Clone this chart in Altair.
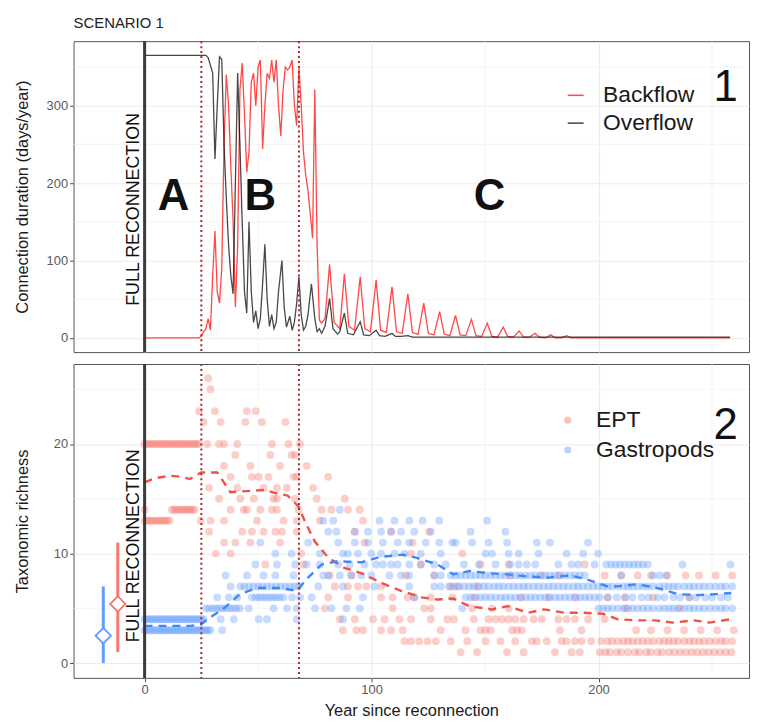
import altair as alt
import pandas as pd

FONT = "Liberation Sans"

# ---------------- panel 1: connection duration ----------------
backflow_year = [0, 24, 25, 26, 27, 28, 29, 30, 31, 32, 33, 34, 35, 36, 37, 38, 39, 40, 41, 42, 43, 44,
                 45, 46, 47, 48, 49, 50, 51, 52, 53, 54, 55, 56, 57, 58, 59, 60, 61, 62, 63, 64,
                 65, 66, 67, 68, 69, 70, 71, 72, 73, 74, 75, 76, 77, 78,
                 79.5, 81.5, 83.5, 86, 88, 90, 92.5, 95, 97, 99.5, 102, 104, 106.5, 109, 111, 113.5,
                 116, 118, 120.5, 123, 125, 127.5, 130, 132, 134.5, 137, 139, 141.5, 144, 146, 148.5,
                 151, 153, 155.5, 158, 160, 162.5, 165, 167, 169.5, 172, 174, 176.5, 179, 181, 183.5,
                 186, 188, 258]
backflow_days = [0, 0, 2, 8, 12, 25, 10, 80, 138, 60, 45, 90, 250, 340, 300, 220, 150, 40, 120, 320, 355, 290,
                 214, 240, 330, 342, 300, 350, 359, 244, 300, 342, 335, 359, 330, 359, 300, 261, 320, 350, 346, 350,
                 359, 300, 274, 350, 300, 240, 210, 190, 160, 129, 321, 120, 23, 19,
                 25, 95, 20, 12, 83, 15, 10, 79, 12, 8, 75, 10, 7, 66, 8, 6,
                 57, 7, 5, 45, 6, 4, 34, 5, 3, 29, 4, 3, 24, 3, 2,
                 19, 2, 1, 14, 2, 1, 9, 1, 1, 6, 1, 0, 4, 0, 0,
                 3, 0, 0]

overflow_year = [0, 27, 28, 29, 30, 31, 32, 33, 34, 35, 36, 37, 38, 39, 40, 41, 42, 43, 44, 45, 46, 47,
                 48, 49, 50, 51, 52, 53, 54, 55, 56, 57, 58, 59, 60.5, 61.5, 62.5, 64, 65, 66, 67, 68,
                 69, 70, 71, 72, 73.5, 75, 76, 77, 78, 79.5, 81.5, 83, 85, 86, 88, 89.5, 92, 95, 96.5,
                 99, 102, 103.5, 106, 109, 110.5, 113, 116, 118, 258]
overflow_days = [365, 365, 362, 352, 342, 231, 300, 363, 360, 250, 180, 120, 80, 57, 200, 342, 250, 150, 60, 32, 150, 60,
                 20, 35, 12, 25, 70, 121, 50, 15, 30, 12, 20, 60, 100, 40, 14, 28, 10, 20, 45, 79,
                 30, 10, 15, 30, 70, 25, 8, 12, 6, 15, 51, 12, 5, 8, 32, 6, 4, 21, 4,
                 3, 10, 3, 2, 6, 2, 2, 3, 1, 1]

flow_names = ["Backflow", "Overflow"]
flow_colors = ["#FF0000", "#000000"]

phase_breaks = [25, 68]
reconnection_year = [0]
phase_labels = ["A", "B", "C"]
phase_label_year = [12.7, 51, 152]
phase_label_days = [182, 182, 182]

# ---------------- panel 2: taxonomic richness ----------------
ept_rows = {
    26: [28],
    25: [29],
    23: [24, 31, 45, 49],
    22: [26, 33.5, 44.4, 51.7, 62],
    20: [0, 1, 2, 3, 4, 5, 6, 7, 8, 9, 10, 11, 12, 13, 14, 15, 16, 17, 18, 19, 20, 21, 22, 23, 24,
         27.6, 32.8, 35, 40.8, 56.1, 63.4, 68.5],
    19: [40, 55.4, 64.8, 66.3],
    18: [35, 46.6, 59.7, 71.4],
    17: [37.9, 47.3, 50.3, 54.6, 65.6, 67, 80.9],
    16: [28.4, 40.8, 52.4, 58.3, 62.7, 74.3],
    15: [32.8, 42.2, 48.1, 56.8, 58.3, 66.3, 75.8, 88.2],
    14: [0, 12, 13, 14, 15, 16, 17, 18, 19, 20, 21, 22,
         37.9, 43.7, 45.1, 51, 56.1, 58.3, 67.8, 78, 82.3, 89.6, 94.8],
    13: [0, 1, 2, 3, 4, 5, 6, 7, 8, 9, 10, 11,
         24.7, 29.1, 35, 49.5, 61.2, 67, 77.2, 96.2],
    12: [28.4, 43, 47.3, 52.4, 57.6, 60.5, 67, 92.6, 108.6, 125.4],
    11: [35, 40, 46.6, 59.7, 96.9, 118.1],
    10: [31.3, 37.9, 69, 117.4, 140],
    9: [53.2, 70, 121.7, 148, 160.4, 193.9],
    8: [81.6, 91.1, 115.2, 127.6, 161.1, 175, 182.3, 202.7, 210, 217.3, 223.1, 230.4, 238.4,
        244.3, 251.6, 258.9],
    7: [83.8, 89.6, 94, 97.7, 104.2, 134.9, 137.8, 146.5],
    6: [80.9, 89.6, 104.2, 109.3, 115.9, 118.8, 126.1, 135.6, 145, 166, 178, 190, 204.1, 211.4,
        224, 240],
    5: [79.4, 109.3, 123.2, 126.1, 144.3, 153.1, 160.4, 212, 236],
    4: [86, 92.6, 100.6, 105.7, 112.3, 117.4, 126.1, 133.4, 136.3, 145.1, 151.6, 154.6, 157.5,
        160.4, 163.3, 167, 171.4, 175, 182.3, 185.9, 189.6, 195.4, 202.7],
    3: [87.4, 93.3, 96.2, 104.2, 108.6, 113.7, 130.5, 141.4, 148, 150.2, 152.4, 161.9, 164.1,
        166.2, 183, 192.5, 216.6, 223.1, 230.4, 237.7, 245, 252.3, 259.6],
    2: [114.5, 117.4, 121, 124.7, 128.3, 134.9, 142.2, 150.2, 156.8, 163.3, 170.6, 172.8, 177.2,
        183.7, 185.9, 189.6, 192.5, 196.8, 201.2, 204, 206, 208.5, 211, 213, 215, 217.3, 219.5,
        221.7, 224, 226.8, 229, 231, 233, 235, 237.7, 240, 242, 244.3, 246.5, 249, 251.6, 254,
        256, 258.9],
    1: [139.2, 146.5, 159.7, 167, 180.8, 188.1, 191.7, 200.5, 203, 205, 208, 210, 213, 216, 218,
        221, 223, 226, 228, 231, 233.5, 236, 238.5, 241, 243.5, 246, 248.5, 251, 253.5, 256, 258.5],
}

gastropod_rows = {
    14: [86],
    13: [78.7, 83.1, 103.5, 110.1, 116.6, 122.5, 129.8, 150.9],
    12: [80.9, 84.5, 92.6, 98.4, 104.2, 108.6, 113, 118.8, 126.1, 143.6, 159],
    11: [51, 72.1, 85.3, 92.6, 98.4, 105, 111.5, 116.6, 123.9, 129.8, 135.6, 137, 144.3, 151.6,
         159.7, 172.8, 178.6, 195.4],
    10: [57.6, 64.8, 77.2, 87.4, 89.6, 94, 99.9, 104.2, 110.1, 114.5, 121.7, 130.5, 150.2, 153.1,
         160.4, 164.8, 173.6, 185.9, 193.2, 199.8],
    9: [48.8, 58.3, 66.3, 71.4, 77.2, 85.3, 90.4, 96.9, 102, 105, 108.6, 111.5, 116.6, 121.7,
        127.6, 132.7, 140.7, 147.3, 154.6, 161.1, 164.8, 168.4, 172.1, 182.3, 188.1, 191, 198.3,
        203.4, 205.5, 207.5, 209.5, 211.5, 213.5, 215.5, 217.5, 219.5, 221.7, 237, 258.1],
    8: [35.7, 45.1, 52.4, 57.6, 65.6, 78.7, 80.9, 86, 91.1, 95.5, 99.9, 107.9, 113, 116.6, 127.6,
        130.5, 134.9, 137, 139.2, 141.4, 143.6, 145.8, 148, 150.2, 152.4, 154.6, 156.8, 159,
        161.1, 163.3, 165.5, 167.7, 170, 172.1, 174.3, 176.5, 178.6, 180.8, 183, 185.2, 187.4,
        189.6, 191.7, 193.9, 210, 223.9, 226.8, 229.7],
    7: [37.9, 42.2, 44, 46, 48, 50, 52, 54, 56, 58, 60, 62, 64, 66, 67.8, 76.5, 87.4, 101.3,
        116.6, 127.6, 130.5, 134.1, 136.3, 138.5, 140.7, 143, 145, 147.3, 149.5, 151.6, 154, 156,
        158, 160.4, 162.5, 164.8, 167, 169, 171.4, 173.6, 175.8, 178, 180, 182.3, 184.5, 186.6,
        189, 191, 193.2, 195.4, 197.6, 199.8, 202, 204, 206, 208.5, 211, 213, 215, 217.3, 219.5,
        221.7, 224, 226.8, 229, 231, 233, 235, 237.7, 240, 242, 244.3, 246.5, 249, 251.6, 254,
        256, 258.9],
    6: [32, 37.1, 40.8, 47.3, 49, 50.5, 52, 53.5, 55, 56.5, 58, 59.5, 61.2, 65, 68.5, 73.6, 96.2,
        118.8, 141.4, 143.6, 146, 148, 150.2, 152.4, 154.6, 157, 159, 161.1, 163.3, 165.5, 168,
        170, 172.1, 174.3, 176.5, 178.6, 181, 183, 185.2, 187.4, 189.6, 192, 194, 196, 198.3,
        200.5, 204, 208, 212, 215, 219, 222, 226, 229, 233, 236, 240, 243, 247, 250, 254, 257],
    5: [27, 28.5, 30, 31.5, 33, 34.5, 36, 37.5, 39, 40.5, 42, 45.9, 56.8, 62.7, 67, 75.1, 82.3,
        88.9, 94.8, 140, 200, 202, 204, 206, 208.5, 211, 213, 215, 217.3, 219.5, 221.7, 224,
        226.8, 229, 231, 233, 235, 237.7, 240, 242, 244.3, 246.5, 249, 251.6, 254, 256, 258.9],
    4: [0, 1, 2, 3, 4, 5, 6, 7, 8, 9, 10, 11, 12, 13, 14, 15, 16, 17, 18, 19, 20, 21, 22, 23, 24,
        25, 26, 33.5, 39.3, 50.3, 53.9, 67, 87.4],
    3: [0, 1, 2, 3, 4, 5, 6, 7, 8, 9, 10, 11, 12, 13, 14, 15, 16, 17, 18, 19, 20, 21, 22, 23, 24,
        25, 26, 27, 28, 29, 34.2],
}

ept_trend_year = [0, 5, 11.6, 16, 20, 25, 32, 37.8, 45, 53, 58, 63, 67.8, 70.7, 75, 81, 88, 95.5,
                  105.7, 113, 122, 129, 136, 143, 153, 160, 169, 176, 185, 192.6, 202, 208.5, 217,
                  224.6, 233, 242, 249, 258]
ept_trend_val = [16.5, 16.9, 17.1, 17.0, 16.8, 17.4, 17.4, 15.6, 15.7, 15.8, 15.5, 15.3, 14.3, 12.9,
                 11.1, 9.6, 8.7, 8.2, 7.2, 6.6, 6.0, 5.8, 5.9, 5.2, 4.9, 5.2, 4.6, 4.9, 4.6, 4.6, 4.5,
                 4.0, 3.9, 3.9, 3.7, 3.9, 3.7, 4.0]
gas_trend_year = [0, 10, 20, 24.7, 27.6, 35, 42, 49.5, 59.7, 67, 72, 78, 85, 95.5, 104, 114, 120,
                  129, 136, 143, 152, 160, 169, 178, 187, 194, 204, 208.5, 217, 226, 235, 243.5,
                  252, 258.5]
gas_trend_val = [3.4, 3.4, 3.4, 3.5, 4.0, 5.0, 6.3, 6.85, 6.85, 6.6, 7.8, 9.0, 9.3, 9.2, 9.7, 9.9,
                 9.6, 9.0, 8.1, 8.4, 8.2, 8.1, 7.9, 7.8, 8.0, 7.7, 7.0, 7.0, 7.2, 6.85, 6.3, 6.2,
                 6.3, 6.4]

group_names = ["EPT", "Gastropods"]
group_colors = ["#F8766D", "#619CFF"]
trend_colors = ["#F0524A", "#3F88F5"]

# full-reconnection summary (range and mean)
err_group = ["EPT", "Gastropods"]
err_year = [-11.8, -18.2]
err_lo = [1, 0]
err_hi = [11, 7]
err_mid = [5.4, 2.5]

# ---------------- build tables ----------------
df_flow = pd.concat([
    pd.DataFrame({"year": backflow_year, "days": backflow_days, "flow": "Backflow"}),
    pd.DataFrame({"year": overflow_year, "days": overflow_days, "flow": "Overflow"}),
])

pts = []
for grp, rows in (("EPT", ept_rows), ("Gastropods", gastropod_rows)):
    for val, years in rows.items():
        for yr in years:
            pts.append({"year": yr, "richness": val, "group": grp})
df_pts = pd.DataFrame(pts)

df_ept_trend = pd.DataFrame({"year": ept_trend_year, "richness": ept_trend_val})
df_gas_trend = pd.DataFrame({"year": gas_trend_year, "richness": gas_trend_val})
df_err = pd.DataFrame({"group": err_group, "year": err_year, "lo": err_lo, "hi": err_hi, "mid": err_mid})
df_breaks = pd.DataFrame({"year": phase_breaks})
df_recon = pd.DataFrame({"year": reconnection_year})
df_abc = pd.DataFrame({"label": phase_labels, "year": phase_label_year, "days": phase_label_days})

W = 680
H1 = 313
H2 = 316
XDOM = [-31.3, 266.3]
xs = alt.Scale(domain=XDOM, nice=False, zero=False)
ys1 = alt.Scale(domain=[-18.25, 383.25], nice=False, zero=False)
ys2 = alt.Scale(domain=[-1.35, 27.3], nice=False, zero=False)

x_top_axis = alt.Axis(values=[0, 100, 200], labels=False, ticks=False, title=None, domain=False)
x_bot_axis = alt.Axis(values=[0, 100, 200], title="Year since reconnection", format="d",
                      labelPadding=2, titlePadding=6)
y_top_axis = alt.Axis(values=[0, 100, 200, 300], title="Connection duration (days/year)",
                      titlePadding=16)
y_bot_axis = alt.Axis(values=[0, 10, 20], title="Taxonomic richness", titlePadding=23)

minor_x = pd.DataFrame({"year": [50, 150, 250]})
minor_y1 = pd.DataFrame({"v": [50, 150, 250, 350]})
minor_y2 = pd.DataFrame({"v": [5, 15, 25]})


def minor_grid(xax, ysc, yax, ydf):
    gx = alt.Chart(minor_x).mark_rule(color="#F3F3F3", strokeWidth=0.8).encode(
        x=alt.X("year:Q", scale=xs, axis=xax))
    gy = alt.Chart(ydf).mark_rule(color="#F3F3F3", strokeWidth=0.8).encode(
        y=alt.Y("v:Q", scale=ysc, axis=yax))
    return [gx, gy]


# ---- top panel ----
flow_lines = alt.Chart(df_flow).mark_line(strokeWidth=1.3, opacity=0.72).encode(
    x=alt.X("year:Q", scale=xs, axis=x_top_axis),
    y=alt.Y("days:Q", scale=ys1, axis=y_top_axis),
    color=alt.Color("flow:N", scale=alt.Scale(domain=flow_names, range=flow_colors),
                    legend=alt.Legend(title=None, orient="none", legendX=494, legendY=43,
                                      labelFontSize=23, labelFont=FONT, labelColor="#1a1a1a",
                                      symbolType="stroke", symbolSize=256, symbolStrokeWidth=1.6,
                                      symbolOpacity=0.7, labelOffset=16, rowPadding=4, padding=0)),
    detail="flow:N",
)


def break_rules(xax):
    return alt.Chart(df_breaks).mark_rule(color="#A52A2A", strokeDash=[2, 3], strokeWidth=2).encode(
        x=alt.X("year:Q", scale=xs, axis=xax))


def recon_rule(xax):
    return alt.Chart(df_recon).mark_rule(color="#3a3a3a", strokeWidth=3).encode(
        x=alt.X("year:Q", scale=xs, axis=xax))


recon_text_top = alt.Chart(pd.DataFrame({"t": ["FULL RECONNECTION"], "year": [-4.8], "v": [166]})).mark_text(
    angle=270, fontSize=18, font=FONT, color="#111", align="center", baseline="middle").encode(
    x=alt.X("year:Q", scale=xs, axis=x_top_axis), y=alt.Y("v:Q", scale=ys1, axis=y_top_axis), text="t:N")

abc_text = alt.Chart(df_abc).mark_text(fontSize=44, fontWeight="bold", font=FONT, color="#111",
                                       align="center", baseline="middle").encode(
    x=alt.X("year:Q", scale=xs, axis=x_top_axis), y=alt.Y("days:Q", scale=ys1, axis=y_top_axis),
    text="label:N")

num1 = alt.Chart(pd.DataFrame({"t": ["1"], "year": [256], "v": [323]})).mark_text(
    fontSize=44, font=FONT, color="#111", align="center", baseline="middle").encode(
    x=alt.X("year:Q", scale=xs, axis=x_top_axis), y=alt.Y("v:Q", scale=ys1, axis=y_top_axis), text="t:N")

top = alt.layer(
    *minor_grid(x_top_axis, ys1, y_top_axis, minor_y1), flow_lines, break_rules(x_top_axis),
    recon_rule(x_top_axis), recon_text_top, abc_text, num1
).properties(width=W, height=H1,
             title=alt.TitleParams("SCENARIO 1", anchor="start", frame="group", fontSize=15,
                                   font=FONT, fontWeight="normal", color="#222", offset=9))

# ---- bottom panel ----
points = alt.Chart(df_pts).mark_circle(size=62, opacity=0.36).encode(
    x=alt.X("year:Q", scale=xs, axis=x_bot_axis),
    y=alt.Y("richness:Q", scale=ys2, axis=y_bot_axis),
    color=alt.Color("group:N", scale=alt.Scale(domain=group_names, range=group_colors),
                    legend=alt.Legend(title=None, orient="none", legendX=486, legendY=45,
                                      labelFontSize=23, labelFont=FONT, labelColor="#1a1a1a",
                                      symbolType="circle", symbolSize=50, symbolOpacity=0.45,
                                      symbolStrokeWidth=0, labelOffset=17, rowPadding=6, padding=0)),
)

ept_trend = alt.Chart(df_ept_trend).mark_line(color=trend_colors[0], strokeDash=[8, 6],
                                               strokeWidth=2.4).encode(
    x=alt.X("year:Q", scale=xs, axis=x_bot_axis), y=alt.Y("richness:Q", scale=ys2, axis=y_bot_axis))
gas_trend = alt.Chart(df_gas_trend).mark_line(color=trend_colors[1], strokeDash=[8, 6],
                                               strokeWidth=2.4).encode(
    x=alt.X("year:Q", scale=xs, axis=x_bot_axis), y=alt.Y("richness:Q", scale=ys2, axis=y_bot_axis))

err_layers = []
for grp, col in zip(group_names, group_colors):
    base = alt.Chart(df_err).transform_filter(alt.datum.group == grp)
    err_layers.append(base.mark_rule(color=col, strokeWidth=3).encode(
        x=alt.X("year:Q", scale=xs, axis=x_bot_axis), y=alt.Y("lo:Q", scale=ys2, axis=y_bot_axis),
        y2="hi:Q"))
    err_layers.append(base.mark_point(shape="diamond", size=240, fill="white", fillOpacity=1,
                                      stroke=col, strokeWidth=1.8, opacity=1).encode(
        x=alt.X("year:Q", scale=xs, axis=x_bot_axis), y=alt.Y("mid:Q", scale=ys2, axis=y_bot_axis)))

recon_text_bot = alt.Chart(pd.DataFrame({"t": ["FULL RECONNECTION"], "year": [-4.8], "v": [10.7]})).mark_text(
    angle=270, fontSize=18, font=FONT, color="#111", align="center", baseline="middle").encode(
    x=alt.X("year:Q", scale=xs, axis=x_bot_axis), y=alt.Y("v:Q", scale=ys2, axis=y_bot_axis), text="t:N")

num2 = alt.Chart(pd.DataFrame({"t": ["2"], "year": [256], "v": [21.6]})).mark_text(
    fontSize=44, font=FONT, color="#111", align="center", baseline="middle").encode(
    x=alt.X("year:Q", scale=xs, axis=x_bot_axis), y=alt.Y("v:Q", scale=ys2, axis=y_bot_axis), text="t:N")

bottom = alt.layer(
    *minor_grid(x_bot_axis, ys2, y_bot_axis, minor_y2), points, ept_trend, gas_trend,
    break_rules(x_bot_axis), recon_rule(x_bot_axis), *err_layers, recon_text_bot, num2
).properties(width=W, height=H2)

chart = alt.vconcat(top, bottom, spacing=8).resolve_scale(color="independent").properties(
    padding={"left": 5, "top": 5, "right": 0, "bottom": 0}
).configure(font=FONT).configure_view(stroke="#555555", strokeWidth=1).configure_axis(
    gridColor="#EBEBEB", gridWidth=1.1, domain=False, tickColor="#4d4d4d", tickSize=4,
    labelColor="#5a5a5a", labelFontSize=13, labelFont=FONT, titleFont=FONT, titleFontSize=16.5,
    titleFontWeight="normal", titleColor="#1a1a1a", labelPadding=2
).configure_title(fontSize=15, font=FONT, fontWeight="normal", color="#222")

chart.save("out.html", embed_options={"renderer": "svg", "actions": False})
